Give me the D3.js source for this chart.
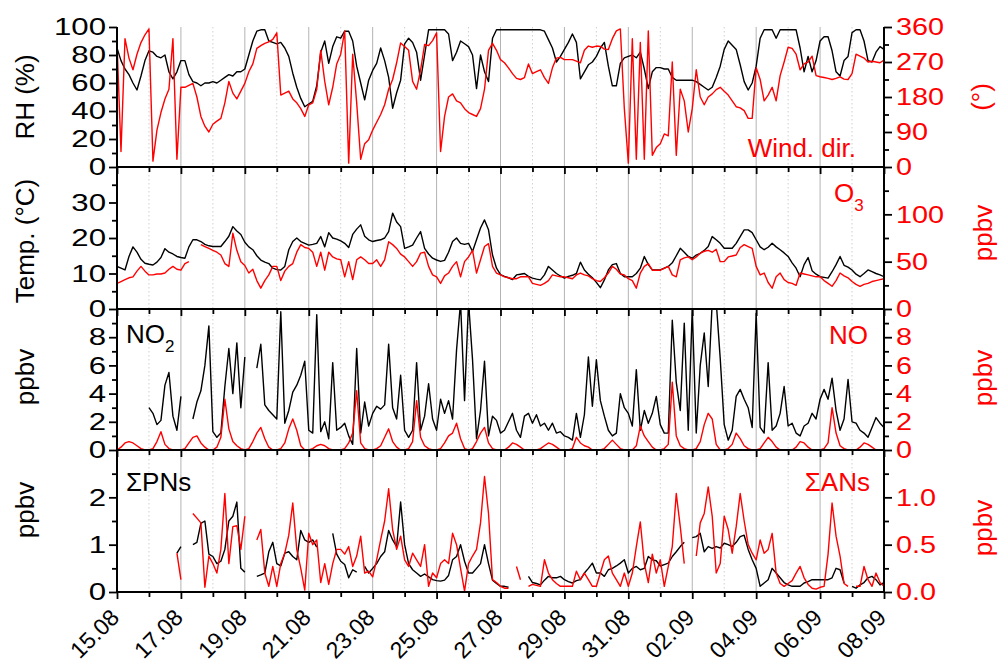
<!DOCTYPE html>
<html><head><meta charset="utf-8">
<script src="https://cdn.jsdelivr.net/npm/d3@7"></script>
<style>
body{margin:0;background:#fff;}
svg{display:block;font-family:"Liberation Sans",Arial,sans-serif;}
</style></head><body>
<svg id="chart" width="998" height="667"></svg>
<script>
// ---------------- DATA ----------------
const dateLabels = ["15.08","17.08","19.08","21.08","23.08","25.08","27.08","29.08","31.08","02.09","04.09","06.09","08.09"];
const startUTC = Date.UTC(2013,7,15);
const endUTC = Date.UTC(2013,8,8);

// relative humidity (%), every 3 h
const rh = [85,76,70,66,60,55,65,76, 83,82,79,78,80,68,63,68, 76,76,66,61,60,58,60,60,
  61,60,62,64,66,65,68,68, 70,80,90,97,98,98,90,89, 88,89,85,79,67,57,49,43,
  45,47,58,82,90,74,86,93, 92,97,97,90,72,60,48,62, 69,74,85,76,64,42,53,62,
  88,92,89,82,62,80,98,98, 98,98,98,95,76,82,90,88, 86,80,56,80,68,61,92,98,
  98,98,98,98,98,98,98,98, 98,98,98,97,91,85,75,79, 84,89,95,89,63,68,73,75,
  79,85,89,72,58,58,74,78, 79,80,78,82,70,56,68,71, 71,70,70,64,62,62,62,62,
  62,61,59,57,55,57,64,72, 84,90,87,84,73,61,55,60, 72,92,98,98,98,92,98,98,
  98,98,98,85,68,79,68,76, 90,93,93,83,68,65,76,79, 96,98,98,90,76,75,82,86, 84];

// wind direction (deg), every 3 h
const windDir = [320,40,330,280,250,290,320,340, 355,15,95,140,175,200,330,20,
  205,205,210,215,180,130,105,90, 110,118,125,165,220,190,175,195,
  215,245,265,305,312,318,322,328, 345,185,190,195,175,165,150,130,
  160,165,200,300,220,160,205,265, 290,350,10,290,165,20,60,70,
  95,115,135,160,200,225,268,319, 310,300,220,200,250,315,312,325,
  345,40,130,180,188,170,165,150, 140,135,130,150,200,300,318,300,
  276,268,255,240,228,225,230,265, 240,245,250,230,215,255,280,282,
  276,276,276,272,268,300,311,308, 311,310,303,302,330,350,355,150,
  10,330,20,320,20,350,30,50, 60,85,80,270,30,200,170,90,
  150,250,180,160,180,188,199,205, 195,185,170,155,152,145,125,125,
  255,225,170,185,205,170,235,270, 308,305,290,250,265,270,285,235,
  232,230,228,225,228,232,226,225, 240,290,285,280,270,272,270,268, 275];

// temperature (deg C), every 3 h
const temp = [12,11.5,11,14.8,17.5,16,14,12.9, 12.6,12.4,13.2,14.5,17,16,15.5,14.8,
  14.5,14.3,17.5,19.5,19.5,19,18.2,17.8, 17.6,17.6,17.6,19,20.5,23.2,22,21,
  18.8,17.5,16.7,15,13.8,13.2,12.8,11.5, 11.1,11,12,16.7,19,20,19,18.5,
  18,18.2,18.5,20.4,17.5,21.5,20,19.7, 19.2,18.5,17.3,21,22.5,23.7,20.5,19.5,
  19,19.3,19.5,20,21.8,27,24.5,23.2, 17.1,17.5,18,20,21.8,17.1,15.5,14.3,
  13.8,13.4,13.7,16,19,20,18.5,18.2, 18.5,16.2,19.5,22.8,25.1,22.3,15.2,11.5,
  9.7,9.2,8.8,8.3,9.6,9.8,10,9.2, 8.7,8.4,8.2,9.6,12,11,10,9.3,
  8.7,9.2,9.5,10,13.2,11,9.8,8.8, 7.5,6,8.2,11,12.5,12.8,10,9.1,
  9.1,9.1,10,11.5,14.8,12.5,11,11, 11,11.5,12,13,15,17.1,16,14.8,
  14.3,15.2,15.7,16.5,17.6,20.4,19.5,18.5, 17.1,17.1,17.1,18.5,20.4,22.3,22.3,21.5,
  19.5,17.5,16.7,17.4,18.5,17.5,16.7,15.8, 14.8,13,11.5,9.1,12.5,14.5,10.8,9.8,
  9.1,8.9,8.7,10.5,12.5,14.8,12.3,11.8, 11,9.8,9.1,10,11,10.5,10,9.6, 9.1];

// ozone (ppbv), every 3 h
const o3 = [27,29,31,33,34,40,45,40, 36,36,37,37,38,42,45,42, 41,48,50,null,null,68,66,64,
  62,60,57,48,45,80,62,50, 46,38,42,30,22,30,36,45, 45,30,40,45,48,60,68,65,
  64,60,45,60,41,60,55,53, 52,34,50,31,52,55,52,48, 48,52,45,52,71,68,64,58,
  55,50,45,50,59,60,45,36, 34,27,35,38,45,50,34,50, 55,62,38,52,66,69,45,38,
  36,34,33,32,32,34,34,34, 27,26,25,27,30,36,35,34, 34,33,32,36,38,36,35,32,
  30,29,33,38,45,42,37,36, 32,30,22,38,45,48,41,41, 41,43,45,36,34,52,54,55,
  52,55,59,61,62,60,63,50, 50,55,56,57,65,68,66,64, 45,36,38,28,22,34,38,31,
  28,27,25,38,37,36,35,34, 34,30,27,24,30,38,35,33, 29,26,24,26,27,29,30,31, 32];

// NO2 (ppbv), every 3 h
const no2 = [null,null,null,null,null,null,null,null, 3.0,2.6,1.8,2.1,4.6,5.5,2.4,1.4,
  3.8,null,null,2.2,3.4,4.2,6.0,8.8, 1.3,0.9,1.2,4.5,7.2,4.0,7.6,3.0,
  6.6,null,null,5.8,7.5,3.2,2.8,2.5, 2.2,9.8,1.9,2.8,4.1,4.6,5.3,6.3,
  1.4,1.2,9.6,1.3,2.0,0.8,6.2,1.4, 1.6,1.9,1.0,0.4,7.2,1.2,3.4,1.7,
  2.6,3.1,2.9,3.2,7.5,3.0,2.2,5.3, 1.4,0.9,1.4,6.2,1.4,2.4,4.7,2.2,
  1.4,3.6,2.6,3.5,2.2,7.1,10.5,3.5, 10.5,6.4,0.8,2.8,6.3,1.0,2.4,2.1,
  1.2,1.4,2.0,2.6,1.4,0.9,2.4,2.6, 1.9,2.5,1.7,1.9,1.4,1.9,1.2,1.3,
  1.0,0.9,0.7,2.6,0.9,2.5,6.6,3.1, 6.4,3.5,2.4,1.4,1.0,1.2,4.0,3.0,
  2.6,1.7,5.7,1.4,2.8,1.9,2.6,3.8, 1.8,1.2,1.2,9.2,4.8,2.8,9.0,1.4,
  10.0,1.2,6.0,8.3,4.5,10.5,10.5,6.5, 1.8,0.7,1.4,3.8,4.3,3.6,3.0,1.6,
  9.7,1.6,1.2,6.2,1.4,1.7,2.6,4.5, 1.7,1.9,1.2,1.0,1.7,1.9,2.6,2.2,
  3.6,4.3,3.6,5.1,2.8,1.4,2.2,5.0, 2.0,1.9,1.4,1.2,0.9,1.6,2.3,1.9, 1.6];

// NO (ppbv), every 3 h
const no = [0.0,0.2,0.5,0.6,0.5,0.3,0.1,0.0, 0.0,0.1,0.6,1.3,0.4,0.1,0.0,0.0,
  0.0,0.1,0.5,0.9,1.0,0.5,0.2,0.0, 0.0,0.2,0.9,3.6,1.5,0.6,0.3,0.1,
  0.0,0.1,0.6,1.2,1.6,0.8,0.2,0.0, 0.0,0.1,0.5,1.5,2.2,1.4,0.3,0.0,
  0.0,0.1,0.3,0.4,0.3,0.1,0.0,0.0, 0.0,0.1,0.5,1.2,4.2,0.5,0.1,0.0,
  0.0,0.1,0.3,0.9,1.5,0.6,0.2,0.0, 0.0,0.1,0.6,3.5,0.9,0.3,0.1,0.0,
  0.0,0.1,0.5,1.0,1.2,1.9,0.8,0.1, 0.0,0.1,0.6,1.2,1.6,0.5,0.1,0.0,
  0.0,0.0,0.2,0.5,0.4,0.2,0.0,0.0, 0.0,0.0,0.1,0.3,0.5,0.4,0.2,0.0,
  0.0,0.0,0.1,0.9,0.5,0.3,0.2,0.0, 0.0,0.0,0.1,0.4,0.7,0.4,0.1,0.0,
  0.0,0.0,0.3,1.7,1.0,0.6,0.2,0.0, 0.0,0.1,0.4,4.8,1.0,0.3,0.1,0.0,
  0.0,0.1,0.6,1.8,2.6,2.2,0.4,0.0, 0.0,0.1,0.4,1.2,0.8,0.3,0.1,0.0,
  0.0,0.1,0.5,0.9,0.6,0.2,0.0,0.0, 0.0,0.0,0.2,0.6,0.5,0.2,0.0,0.0,
  0.0,0.1,0.5,3.0,1.2,0.3,0.1,0.0, 0.0,0.0,0.2,0.5,0.4,0.2,0.0,0.0, 0.0];

// sum of PNs (ppbv), every 3 h
const sumPNs = [null,null,null,null,null,null,null,null, null,null,null,null,null,null,null,0.82,
  0.96,null,null,1.0,1.05,1.45,1.5,0.8, 0.75,0.6,0.65,0.9,1.5,1.6,1.9,0.5,
  0.42,null,null,0.33,0.36,0.4,0.85,1.05, 0.6,0.55,0.82,0.85,0.75,0.68,1.3,1.1,
  1.05,1.1,0.95,null,0.3,null,1.24,0.8, 0.65,0.58,0.3,0.47,0.42,null,0.54,0.4,
  0.5,0.6,0.75,0.85,1.3,1.1,0.96,1.9, 1.0,0.6,0.47,0.4,0.33,0.38,0.32,0.26,
  0.24,0.23,0.25,0.35,0.68,0.75,1.0,0.65, 0.4,0.4,0.5,0.6,1.0,0.6,0.25,0.18,
  0.12,0.12,0.1,null,null,null,null,0.33, 0.2,0.18,0.15,0.25,0.33,0.3,0.3,0.33,
  0.26,0.22,0.19,0.24,0.26,0.4,0.5,0.61, 0.4,0.4,0.33,0.47,0.5,0.55,0.61,0.68,
  0.4,0.5,0.54,0.47,0.5,0.75,0.68,0.66, 0.55,0.58,0.61,0.75,0.85,0.96,1.05,null,
  1.15,1.17,1.24,0.85,0.96,0.92,0.96,0.93, 1.03,1.0,0.96,1.05,1.17,1.2,0.9,0.68,
  0.5,0.12,0.19,0.26,0.5,0.4,0.3,0.2, 0.15,0.12,0.12,0.12,0.19,0.22,0.26,0.26,
  0.26,0.26,0.26,0.3,0.5,0.47,0.19,null, 0.12,0.08,0.15,0.2,0.3,0.33,0.26,0.15, 0.2];

// sum of ANs (ppbv), every 3 h
const sumANs = [null,null,null,null,null,null,null,null, null,null,null,null,null,null,null,0.41,
  0.13,null,null,0.83,0.78,0.73,0.05,0.38, 0.3,0.2,0.45,1.04,0.3,0.69,0.7,0.45,
  0.8,null,null,0.55,0.66,0.2,0.06,0.27, 0.06,0.3,0.41,0.6,0.94,0.45,0.25,0.02,
  0.62,0.5,0.55,0.1,0.3,0.08,0.3,0.45, 0.45,0.4,0.48,0.27,0.38,0.59,0.2,0.22,
  0.16,0.34,0.55,0.75,1.09,0.66,0.45,0.59, 0.34,0.27,0.41,0.34,0.27,0.5,0.06,0.2,
  0.15,0.3,0.34,0.3,0.62,0.5,0.25,0.01, 0.3,0.38,0.45,0.73,1.22,0.83,0.13,0.1,
  0.06,0.04,0.04,null,0.27,0.13,null,0.06, 0.08,0.07,0.06,0.34,0.2,0.13,0.09,0.06,
  0.06,0.06,0.06,0.22,0.13,0.2,0.13,0.06, 0.06,0.2,0.34,0.38,0.2,0.13,0.06,0.2,
  0.06,0.2,0.48,0.74,0.3,0.1,0.4,0.2, 0.34,0.06,0.27,0.48,1.04,0.69,0.3,null,
  null,0.38,0.73,0.83,1.11,0.8,0.2,0.3, 0.8,0.66,0.41,0.69,1.04,0.75,0.5,0.41,
  0.34,0.55,0.41,0.45,0.62,0.2,0.09,0.06, 0.09,0.12,0.2,0.27,0.15,0.08,0.04,0.03,
  0.05,0.06,0.4,0.94,0.59,0.38,0.09,0.06, null,0.06,0.06,0.27,0.13,0.06,0.2,0.1, 0.06];

// ---------------- CHART ----------------
const svg = d3.select("#chart");
const FONT = '"Liberation Sans",Arial,sans-serif';
const X0 = 117, X1 = 884, TOP = 27, BOT = 592;
const BLACK = "#000", RED = "#ff0000";
const x = d3.scaleUtc().domain([new Date(startUTC), new Date(endUTC)]).range([X0, X1]);
const series = (arr, stepH) => arr.map((v, i) => ({t: new Date(startUTC + i * stepH * 3600e3), v}));

const allDays = d3.utcDay.range(new Date(startUTC), new Date(endUTC + 1));
const majorDays = allDays.filter((d, i) => i % 2 === 0);
const minorDays = allDays.filter((d, i) => i % 2 === 1);

// grid lines
const grid = svg.append("g");
allDays.forEach((d, i) => {
  if (i === 0 || i === allDays.length - 1) return;
  grid.append("line").attr("x1", x(d)).attr("x2", x(d)).attr("y1", TOP).attr("y2", BOT)
    .attr("stroke", i % 2 === 0 ? "#b4b4b4" : "#d0d0d0")
    .attr("stroke-width", 1)
    .attr("stroke-dasharray", i % 2 === 0 ? null : "1.5,2.5");
});

const panels = [
  {top: 27, bottom: 167,
   L: {dom: [0, 100], major: [0, 20, 40, 60, 80, 100], minor: [10, 30, 50, 70, 90], fmt: d3.format("d")},
   R: {dom: [0, 360], major: [0, 90, 180, 270, 360], minor: [45, 135, 225, 315], fmt: d3.format("d")},
   black: series(rh, 3), red: series(windDir, 3)},
  {top: 167, bottom: 309,
   L: {dom: [0, 40], major: [0, 10, 20, 30], minor: [5, 15, 25, 35], fmt: d3.format("d")},
   R: {dom: [0, 150], major: [0, 50, 100], minor: [25, 75, 125], fmt: d3.format("d")},
   black: series(temp, 3), red: series(o3, 3)},
  {top: 309, bottom: 450,
   L: {dom: [0, 10], major: [0, 2, 4, 6, 8], minor: [1, 3, 5, 7, 9], fmt: d3.format("d")},
   R: {dom: [0, 10], major: [0, 2, 4, 6, 8], minor: [1, 3, 5, 7, 9], fmt: d3.format("d")},
   black: series(no2, 3), red: series(no, 3)},
  {top: 450, bottom: 592,
   L: {dom: [0, 3], major: [0, 1, 2], minor: [0.5, 1.5, 2.5], fmt: d3.format("d")},
   R: {dom: [0, 1.5], major: [0, 0.5, 1.0], minor: [0.25, 0.75, 1.25], fmt: d3.format(".1f")},
   black: series(sumPNs, 3), red: series(sumANs, 3)}
];

const SX_L = 1.3, SX_R = 1.2, TICK_FS = 24;
const defs = svg.append("defs");
panels.forEach((p, k) => {
  const yL = d3.scaleLinear().domain(p.L.dom).range([p.bottom, p.top]);
  const yR = d3.scaleLinear().domain(p.R.dom).range([p.bottom, p.top]);
  defs.append("clipPath").attr("id", "clip" + k).append("rect")
    .attr("x", X0).attr("y", p.top).attr("width", X1 - X0).attr("height", p.bottom - p.top);
  const g = svg.append("g").attr("clip-path", `url(#clip${k})`);
  const lineL = d3.line().defined(d => d.v != null).x(d => x(d.t)).y(d => yL(d.v));
  const lineR = d3.line().defined(d => d.v != null).x(d => x(d.t)).y(d => yR(d.v));
  g.append("path").attr("d", lineL(p.black)).attr("fill", "none").attr("stroke", BLACK).attr("stroke-width", 1.4).attr("stroke-linejoin", "round");
  g.append("path").attr("d", lineR(p.red)).attr("fill", "none").attr("stroke", RED).attr("stroke-width", 1.4).attr("stroke-linejoin", "round");

  // left axis
  const gl = svg.append("g").attr("transform", `translate(${X0},0)`);
  gl.call(d3.axisLeft(yL).tickValues(p.L.major).tickSize(8).tickPadding(3).tickFormat(p.L.fmt));
  gl.append("g").call(d3.axisLeft(yL).tickValues(p.L.minor).tickSize(5).tickFormat(""));
  // right axis
  const gr = svg.append("g").attr("transform", `translate(${X1},0)`);
  gr.call(d3.axisRight(yR).tickValues(p.R.major).tickSize(8).tickPadding(4).tickFormat(p.R.fmt));
  gr.append("g").call(d3.axisRight(yR).tickValues(p.R.minor).tickSize(5).tickFormat(""));
  [gl, gr].forEach(a => {
    a.selectAll(".domain").remove();
    a.selectAll("line").attr("stroke", BLACK).attr("stroke-width", 1.8);
    a.selectAll("text").style("font-family", FONT).style("font-size", TICK_FS + "px");
  });
  gl.selectAll(".tick text").attr("fill", BLACK).attr("x", -11 / SX_L).attr("transform", `scale(${SX_L},1)`);
  gr.selectAll(".tick text").attr("fill", RED).attr("x", 12 / SX_R).attr("transform", `scale(${SX_R},1)`);

  // bottom axis of the panel
  const gb = svg.append("g").attr("transform", `translate(0,${p.bottom})`);
  gb.call(d3.axisBottom(x).tickValues(majorDays).tickSize(7).tickFormat(k === 3 ? (d, i) => dateLabels[i] : ""));
  gb.append("g").call(d3.axisBottom(x).tickValues(minorDays).tickSize(5).tickFormat(""));
  gb.selectAll(".domain").remove();
  gb.selectAll("line").attr("stroke", BLACK).attr("stroke-width", 1.8);
  gb.append("line").attr("x1", X0).attr("x2", X1).attr("y1", 0).attr("y2", 0).attr("stroke", BLACK).attr("stroke-width", 2);
  if (k === 3) {
    gb.selectAll(".tick text")
      .attr("fill", BLACK)
      .style("font-family", FONT).style("font-size", "23px")
      .attr("text-anchor", "end").attr("dy", null).attr("y", null)
      .attr("transform", "translate(3,27) rotate(-45)");
  }
});

// vertical axis lines
svg.append("line").attr("x1", X0).attr("x2", X0).attr("y1", TOP).attr("y2", BOT).attr("stroke", BLACK).attr("stroke-width", 2);
svg.append("line").attr("x1", X1).attr("x2", X1).attr("y1", TOP).attr("y2", BOT).attr("stroke", BLACK).attr("stroke-width", 2);

// axis titles
const titleFont = 26;
function vtitle(txt, cx, cy, color) {
  svg.append("text").attr("transform", `translate(${cx},${cy}) rotate(-90)`)
    .attr("text-anchor", "middle").attr("fill", color).style("font-size", titleFont + "px").text(txt);
}
vtitle("RH (%)", 34, 97, BLACK);
vtitle("Temp. (°C)", 34, 241, BLACK);
vtitle("ppbv", 34, 377, BLACK);
vtitle("ppbv", 34, 510, BLACK);
vtitle("(°)", 990, 97, RED);
vtitle("ppbv", 992, 233, RED);
vtitle("ppbv", 992, 378, RED);
vtitle("ppbv", 992, 528, RED);

// in-panel labels
const lf = 26;
svg.append("text").attr("x", 856).attr("y", 157).attr("text-anchor", "end").attr("fill", RED)
  .style("font-size", lf + "px").text("Wind. dir.");
const o3t = svg.append("text").attr("x", 834).attr("y", 202).attr("fill", RED).style("font-size", lf + "px");
o3t.append("tspan").text("O");
o3t.append("tspan").attr("dy", 9).style("font-size", "17px").text("3");
const no2t = svg.append("text").attr("x", 126).attr("y", 343).attr("fill", BLACK).style("font-size", lf + "px");
no2t.append("tspan").text("NO");
no2t.append("tspan").attr("dy", 9).style("font-size", "17px").text("2");
svg.append("text").attr("x", 868).attr("y", 344).attr("text-anchor", "end").attr("fill", RED)
  .style("font-size", lf + "px").text("NO");
svg.append("text").attr("x", 126).attr("y", 491).attr("fill", BLACK).style("font-size", lf + "px").text("ΣPNs");
svg.append("text").attr("x", 870).attr("y", 491).attr("text-anchor", "end").attr("fill", RED)
  .style("font-size", lf + "px").text("ΣANs");
</script>
</body></html>
